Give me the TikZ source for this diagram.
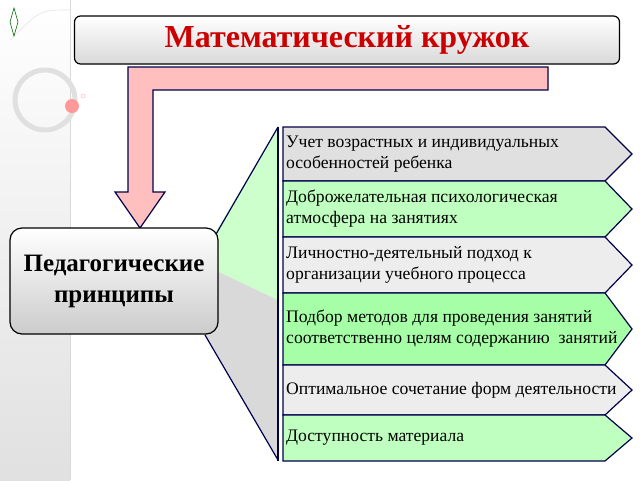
\documentclass[tikz,border=0pt]{standalone}
\usepackage{fontspec}
\setmainfont{Liberation Serif}
\begin{document}
\begin{tikzpicture}[x=1pt,y=-1pt,
  line/.style={draw=blue!30!black,line width=1.2pt},
  item/.style={line,line join=miter},
  itxt/.style={anchor=west,align=left,font=\fontsize{17.6}{21}\selectfont,inner sep=0pt}]
\useasboundingbox (0,0) rectangle (640,480);
\fill[white] (0,0) rectangle (640,480);
\shade[top color=white,bottom color=black!12] (0,0) rectangle (70,480);
\draw[black!15,line width=0.8pt] (70,0) -- (70,480);
\draw[black!12,line width=5pt] (45,100) circle (30);
\draw[black!10,line width=0.6pt] (10,40) .. controls (40,10) .. (70,10);
\fill[red!40] (72,106) circle (7);
\draw[red!30] (83,96) circle (2);
\draw[green!40!black,line width=0.6pt] (14,8) -- (10,22) -- (14,36) -- (18,22) -- cycle;
% fan
\fill[green!20] (208,245) -- (278,127) -- (278,300) -- (210,268) -- cycle;
\fill[black!15] (210,268) -- (278,300) -- (278,460) -- (205,335) -- cycle;
\draw[line] (208,248) -- (278,127);
\draw[line] (205,335) -- (278,460);
% items
\foreach \a/\b/\c/\t [count=\i] in {
 127/181/black!12/{Учет возрастных и индивидуальных\\особенностей ребенка},
 181/237/green!25/{Доброжелательная психологическая\\атмосфера на занятиях},
 237/293/black!7/{Личностно-деятельный подход к\\организации учебного процесса},
 293/365/green!35/{Подбор методов для проведения занятий\\соответственно целям содержанию\ \ занятий},
 365/415/black!7/{Оптимальное сочетание форм деятельности},
 415/461/green!25/{Доступность материала}}{
  \draw[item,fill=\c] (283,\a) -- (605,\a) -- (632,{(\a+\b)/2}) -- (605,\b) -- (283,\b) -- cycle;
  \node[itxt] (t\i) at (286,{(\a+\b)/2}) {\t};
}
\draw[line] (278,127) -- (278,461);
% bent arrow
\draw[line,fill=red!25] (548,67) -- (128,67) -- (128,192) -- (115,192) -- (140,228) -- (165,192) -- (153,192) -- (153,90) -- (548,90) -- cycle;
% title
\node[draw=black,line width=1.2pt,rounded corners=6pt,top color=white,bottom color=black!15,
  minimum width=545pt,minimum height=48pt,font=\bfseries\fontsize{32}{36}\selectfont,text=red!80!black]
  (title) at (347,40) {Математический кружок};
% left box
\node[draw=black,line width=1.2pt,rounded corners=12pt,top color=white,bottom color=black!20,
  minimum width=208pt,minimum height=106pt,align=center,font=\bfseries\fontsize{25}{31}\selectfont]
  (ped) at (114,281) {Педагогические\\принципы};
\end{tikzpicture}
\end{document}
